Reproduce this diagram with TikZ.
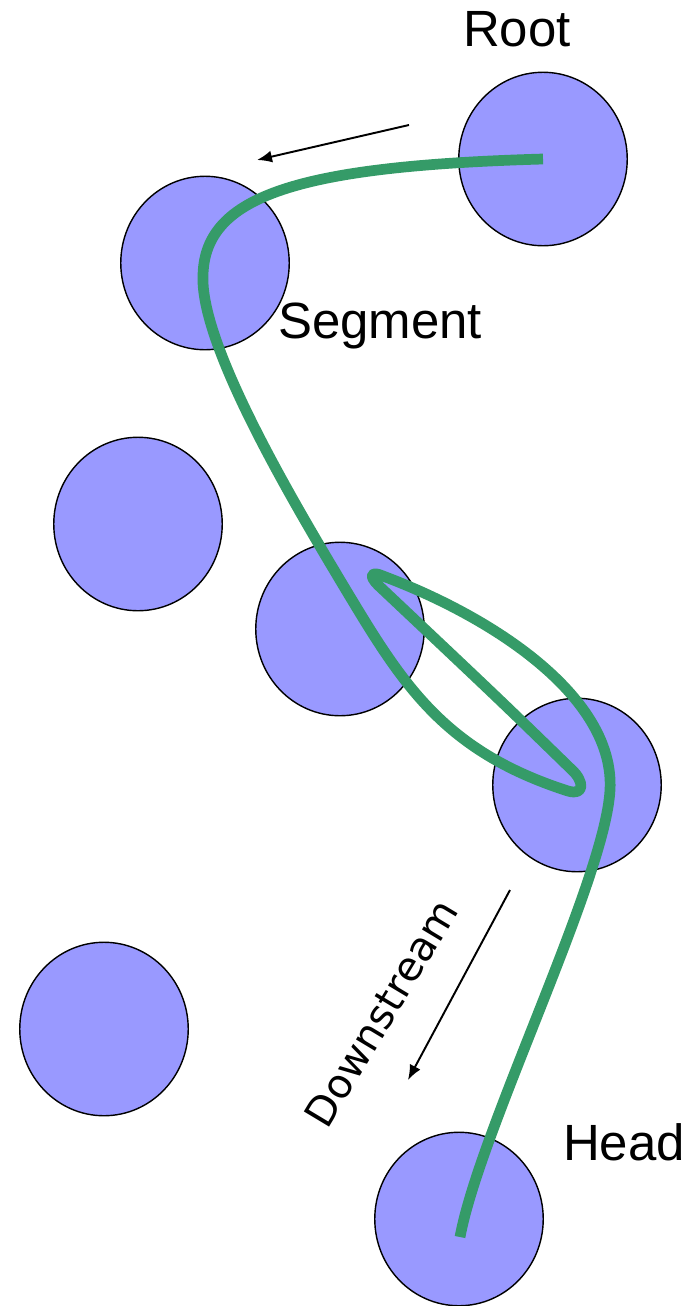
\documentclass[tikz,border=0pt]{standalone}
\usepackage{fontspec}
\setmainfont{Liberation Sans}
\newfontfamily\dejavu{DejaVu Sans}
\usetikzlibrary{arrows.meta,shapes.geometric}

\definecolor{blobfill}{RGB}{153,153,255}
\definecolor{pathgreen}{RGB}{53,155,104}

\begin{document}
\begin{tikzpicture}[x=0.02cm,y=-0.02cm,>={Latex[length=0.3cm,width=0.24cm]},
                        blob/.style={ellipse,draw,fill=blobfill,line width=0.8pt,
                        minimum width=3.37cm,minimum height=3.47cm,inner sep=0pt},
                        tag/.style={font=\fontsize{29}{35}\selectfont},
                        dir arrow/.style={->,line width=1.1pt},
                        track/.style={draw=pathgreen,line width=6.1pt,line join=round}]
                        \useasboundingbox (0,0) rectangle (694,1306);

                        % cells
                        \node[blob] (root) at (543,159) {};
                        \node[blob] (seg) at (205,263) {};
                        \node[blob] (left) at (138,524) {};
                        \node[blob] (mid) at (340,629) {};
                        \node[blob] (right) at (577,785) {};
                        \node[blob] (low) at (104,1029) {};
                        \node[blob] (head) at (459,1219) {};

                        % labels
                        \node[tag] (rootlbl) at (517,29) {Root};
                        \node[tag] (seglbl) at (380,326) {Segment};
                        \node[tag] (headlbl) at (624,1142) {Head};
                        \node[font=\dejavu\fontsize{23}{28}\selectfont,rotate=59] (down) at (381,1013) {Downstream};

                        % direction arrows
                        \coordinate (a1) at (409,125);
                        \coordinate (a2) at (257,160);
                        \coordinate (b1) at (510,890);
                        \coordinate (b2) at (408,1080);
                        \draw[dir arrow] (a1) -- (a2);
                        \draw[dir arrow] (b1) -- (b2);

                        % trajectory
                        \coordinate (tail) at (460,1237);
                        \path[track] (root.center)
                        .. controls (300,166) and (205,195) .. (203,275)
                        .. controls (200,340) and (280,480) .. (340,580)
                        .. controls (400,680) and (440,750) .. (568,791)
                        .. controls (585,796) and (584,781) .. (572,770)
                        .. controls (500,700) .. (378,585)
                        .. controls (368,575) and (372,571) .. (383,576)
                        .. controls (500,620) and (615,700) .. (610,790)
                        .. controls (605,880) and (480,1130) .. (tail);
                        \end{tikzpicture}
\end{document}
